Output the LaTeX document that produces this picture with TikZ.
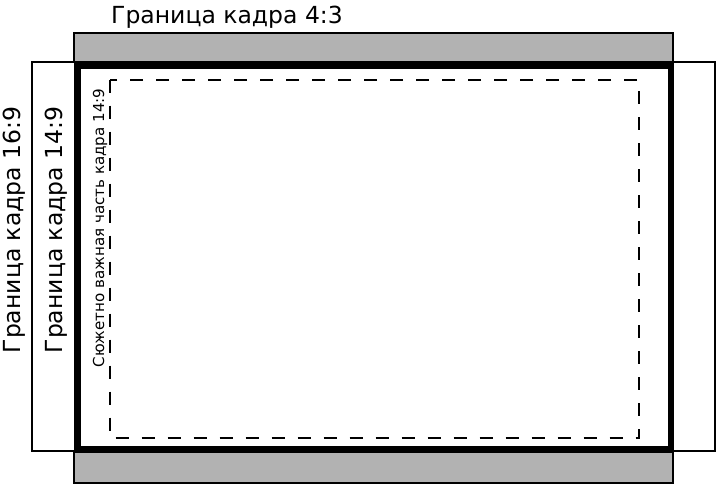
\documentclass[tikz,border=0pt]{standalone}
\usepackage{fontspec}
\setmainfont{DejaVu Sans}

\begin{document}
\begin{tikzpicture}[x=1pt, y=-1pt,
    thinframe/.style={draw=black, line width=1.5pt},
    bigtext/.style={font=\fontsize{23.5}{26}\selectfont, inner sep=0pt},
    smalltext/.style={font=\fontsize{15.1}{18}\selectfont, inner sep=0pt}]
  \useasboundingbox (0,0) rectangle (722,490);
  % frame 4:3 with grey bars
  \path[thinframe, fill=black!30] (74,33) rectangle (673,483);
  % frame 16:9
  \path[thinframe, fill=white] (32,62) rectangle (715,451);
  % frame 14:9
  \path[draw=black, fill=white, line width=6.5pt] (77.5,65.5) rectangle (671,449.5);
  % important part
  \draw[line width=2pt, dash pattern=on 13pt off 13pt] (110,79.5) rectangle (639,438);

  \node[bigtext, anchor=base west] (t43) at (111,23) {Граница кадра 4:3};
  \node[bigtext, anchor=base, rotate=90] (t169) at (20.5,230) {Граница кадра 16:9};
  \node[bigtext, anchor=base, rotate=90] (t149) at (62,230) {Граница кадра 14:9};
  \node[smalltext, anchor=base, rotate=90] (tpart) at (104,228) {Сюжетно важная часть кадра 14:9};
\end{tikzpicture}
\end{document}
